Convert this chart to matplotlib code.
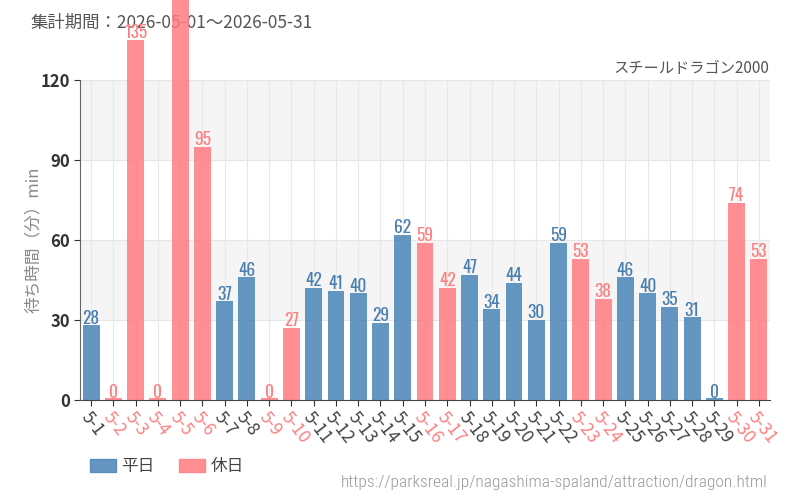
import matplotlib
matplotlib.use("Agg")
import matplotlib.pyplot as plt
from matplotlib.patches import Patch

plt.rcParams['font.family'] = ['Noto Sans CJK JP', 'DejaVu Sans']

dates = [f"5-{d}" for d in range(1, 32)]
values = [28, 0, 135, 0, 165, 95, 37, 46, 0, 27, 42, 41, 40, 29, 62, 59, 42,
          47, 34, 44, 30, 59, 53, 38, 46, 40, 35, 31, 0, 74, 53]
holiday = [0, 1, 1, 1, 1, 1, 0, 0, 1, 1, 0, 0, 0, 0, 0, 1, 1,
           0, 0, 0, 0, 0, 1, 1, 0, 0, 0, 0, 0, 1, 1]
yticks = [0, 30, 60, 90, 120]

BLUE = '#4a84b8'
PINK = '#ff7b7f'
BLUE_T = '#4a7fb0'
PINK_T = '#ff8080'
NARROW = ['Oswald', 'Roboto Condensed', 'Liberation Sans Narrow', 'DejaVu Sans']

fig = plt.figure(figsize=(8, 5), dpi=100)
ax = fig.add_axes([0.1, 0.2, 0.8625, 0.64])
ax.set_xlim(-0.5, 30.5)
ax.set_ylim(0, 120)

# alternating bands
for i, y0 in enumerate(yticks[:-1]):
    if i % 2 == 1:
        ax.axhspan(y0, y0 + 30, color='#f5f5f5', zorder=0, lw=0)
for y in yticks[1:]:
    ax.axhline(y, color='#e6e6e6', lw=0.8, zorder=0.5)
for i in range(len(dates)):
    ax.axvline(i, color='#e8e8e8', lw=0.8, zorder=0.5)

x = list(range(len(dates)))
for i, (v, h) in enumerate(zip(values, holiday)):
    c = PINK if h else BLUE
    tc = PINK_T if h else BLUE_T
    if v == 0:
        ax.plot([i - 0.38, i + 0.38], [0.4, 0.4], color=c, lw=1.5, alpha=0.85,
                zorder=2, solid_capstyle='butt')
    else:
        ax.bar(i, v, width=0.76, color=c, alpha=0.85, zorder=2, clip_on=False)
    ax.text(i, v - 0.5, str(v), ha='center', va='bottom', color=tc,
            fontsize=12.5, family=NARROW, zorder=3, clip_on=False)

ax.set_xticks(x)
ax.set_xticklabels(dates, rotation=-52, ha='left', va='top',
                   rotation_mode='anchor', fontsize=12.5)
for lbl, h in zip(ax.get_xticklabels(), holiday):
    lbl.set_color(PINK_T if h else '#444444')
ax.set_yticks(yticks)
ax.set_yticklabels([str(t) for t in yticks], fontsize=12, color='#333333',
                   fontweight='bold')
ax.tick_params(axis='x', length=4, color='#333333', pad=2)
ax.tick_params(axis='y', length=4, color='#333333', pad=3)
for s in ['top', 'right']:
    ax.spines[s].set_visible(False)
ax.spines['left'].set_color('#666666')
ax.spines['bottom'].set_color('#444444')
ax.spines['left'].set_zorder(4)

ax.set_ylabel('待ち時間（分）min', fontsize=12, color='#888888', labelpad=-1)

ax.text(0.0375, 0.954, '集計期間：2026-05-01～2026-05-31', transform=fig.transFigure,
        fontsize=12.5, color='#555555', ha='left', va='center', zorder=1)
ax.text(0.962, 0.862, 'スチールドラゴン2000', transform=fig.transFigure,
        fontsize=11, color='#555555', ha='right', va='center')
ax.text(0.96, 0.034, 'https://parksreal.jp/nagashima-spaland/attraction/dragon.html',
        transform=fig.transFigure, fontsize=12.5, color='#999999', ha='right',
        va='center', fontweight='light',
        family=['Roboto Condensed', 'Liberation Sans Narrow', 'DejaVu Sans'])

handles = [Patch(color=BLUE, alpha=0.85, label='平日'),
           Patch(color=PINK, alpha=0.85, label='休日')]
fig.legend(handles=handles, loc='center left', bbox_to_anchor=(0.094, 0.066),
           ncol=2, frameon=False, fontsize=12, handlelength=1.56,
           handleheight=0.84, columnspacing=1.5, handletextpad=0.3,
           labelcolor='#444444')

fig.savefig('out.png', dpi=100)
